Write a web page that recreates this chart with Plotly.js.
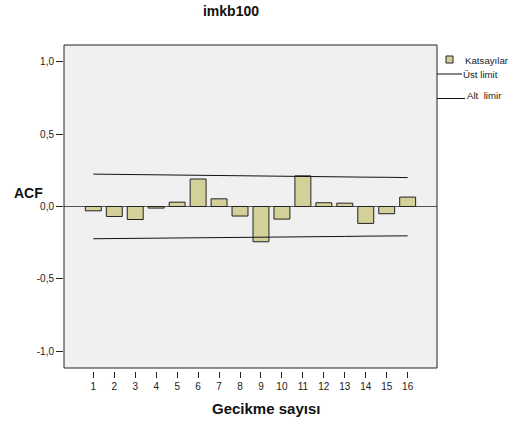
<!DOCTYPE html>
<html>
<head>
<meta charset="utf-8">
<script src="https://cdn.plot.ly/plotly-3.0.1.min.js"></script>
<style>html,body{margin:0;padding:0;background:#fff;}#chart{width:508px;height:422px;}</style>
</head>
<body>
<div id="chart"></div>
<script>
const lags = [1,2,3,4,5,6,7,8,9,10,11,12,13,14,15,16];
const acf = [-0.030,-0.069,-0.090,-0.011,0.030,0.190,0.053,-0.066,-0.244,-0.087,0.212,0.026,0.023,-0.117,-0.050,0.065];
const upperLimit = [0.224,0.222,0.221,0.219,0.218,0.216,0.215,0.213,0.211,0.210,0.208,0.206,0.205,0.203,0.202,0.200];
const lowerLimit = [-0.223,-0.222,-0.220,-0.219,-0.218,-0.216,-0.215,-0.213,-0.212,-0.211,-0.209,-0.208,-0.207,-0.205,-0.204,-0.203];
const yTickVals = [-1.0,-0.5,0.0,0.5,1.0];
const yTickText = ["-1,0","-0,5","0,0","0,5","1,0"];
const legendLabels = ["Katsayılar","Üst limit","Alt  limir"];

const F = "Liberation Sans, Arial, sans-serif";
const L = 64, R = 71, T = 45, B = 51;
const W = 508, H = 422;
const pw = W - L - R, ph = H - T - B;
const px = x => (x - L) / pw;
const py = y => (H - B - y) / ph;

const traces = [
  {type:'bar', x:lags, y:acf, width:0.76, marker:{color:'#d4d09a', line:{color:'#222', width:1}}, showlegend:false, hoverinfo:'x+y'},
  {type:'scatter', mode:'lines', x:lags, y:upperLimit, line:{color:'#111', width:1}, showlegend:false},
  {type:'scatter', mode:'lines', x:lags, y:lowerLimit, line:{color:'#111', width:1}, showlegend:false}
];

const layout = {
  width:W, height:H,
  margin:{l:L, r:R, t:T, b:B, pad:0},
  paper_bgcolor:'#fff', plot_bgcolor:'#f0f0f0',
  showlegend:false,
  title:{text:'<b>imkb100</b>', x:231/W, xanchor:'center', y:1-11/H, yanchor:'middle', font:{family:F, size:14, color:'#111'}},
  xaxis:{range:[-0.4,17.4], tickvals:lags, ticktext:lags.map(String), ticks:'outside', ticklen:6, tickwidth:1, tickcolor:'#222',
         showgrid:false, zeroline:false, showline:false, anchor:'free', position:0,
         tickfont:{family:F, size:10, color:'#222'}, fixedrange:true},
  yaxis:{range:[-1.117,1.117], domain:[3/ph,1], tickvals:yTickVals, ticktext:yTickText, ticks:'outside', ticklen:7, tickwidth:1, tickcolor:'#222',
         showgrid:false, zeroline:true, zerolinecolor:'#555', zerolinewidth:1, showline:false,
         tickfont:{family:F, size:10, color:'#222'}, fixedrange:true},
  shapes:[
    {type:'rect', xref:'x domain', yref:'y domain', x0:0, x1:1, y0:0, y1:1, line:{color:'#222', width:1}, fillcolor:'rgba(0,0,0,0)'},
    {type:'rect', xref:'paper', yref:'paper', x0:px(446), x1:px(453), y0:py(56), y1:py(63), line:{color:'#222', width:1}, fillcolor:'#d4d09a'},
    {type:'line', xref:'paper', yref:'paper', x0:px(437), x1:px(462), y0:py(74), y1:py(74), line:{color:'#111', width:1}},
    {type:'line', xref:'paper', yref:'paper', x0:px(437), x1:px(465), y0:py(98.5), y1:py(98.5), line:{color:'#111', width:1}}
  ],
  annotations:[
    {text:'<b>ACF</b>', xref:'paper', yref:'paper', x:px(28.5), y:py(193), xanchor:'center', yanchor:'middle', showarrow:false, font:{family:F, size:14, color:'#111'}},
    {text:'<b>Gecikme sayısı</b>', xref:'paper', yref:'paper', x:px(266), y:py(408), xanchor:'center', yanchor:'middle', showarrow:false, font:{family:F, size:15, color:'#111'}},
    {text:legendLabels[0], xref:'paper', yref:'paper', x:px(462.5), y:py(60.5), xanchor:'left', yanchor:'middle', showarrow:false, font:{family:F, size:9.7, color:'#222'}},
    {text:legendLabels[1], xref:'paper', yref:'paper', x:px(460.5), y:py(74), xanchor:'left', yanchor:'middle', showarrow:false, font:{family:F, size:9.7, color:'#222'}},
    {text:legendLabels[2], xref:'paper', yref:'paper', x:px(464.5), y:py(95), xanchor:'left', yanchor:'middle', showarrow:false, font:{family:F, size:9.7, color:'#222'}}
  ]
};

Plotly.newPlot('chart', traces, layout, {displayModeBar:false, staticPlot:true});
</script>
</body>
</html>
